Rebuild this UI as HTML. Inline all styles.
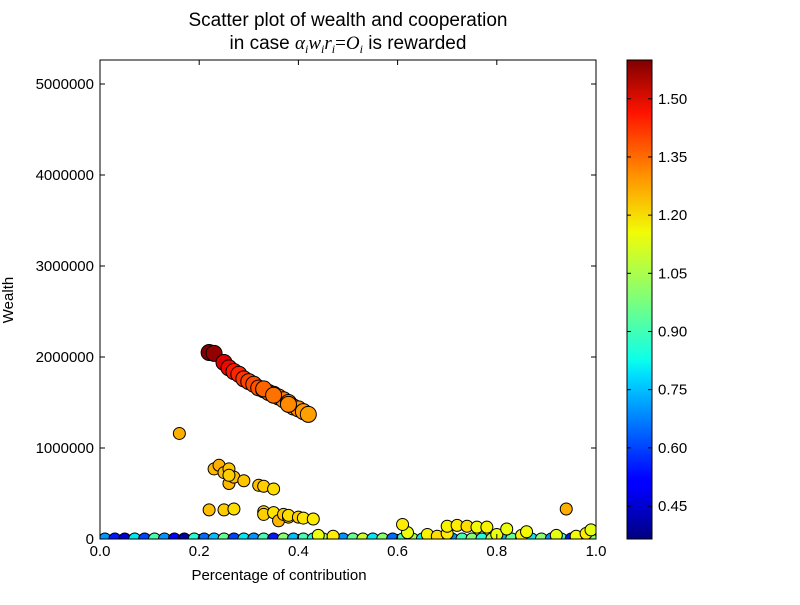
<!DOCTYPE html>
<html><head><meta charset="utf-8"><style>
body{margin:0;background:#fff;width:800px;height:600px;overflow:hidden;font-family:"Liberation Sans","DejaVu Sans",sans-serif}
</style></head><body>
<svg id="chart" width="800" height="600" xmlns="http://www.w3.org/2000/svg">
<rect width="800" height="600" fill="#fff"/>
<defs>
<clipPath id="clip"><rect x="100" y="60" width="496" height="479"/></clipPath>
<linearGradient id="jet" x1="0" y1="1" x2="0" y2="0">
<stop offset="0" stop-color="#00007f"/><stop offset="0.11" stop-color="#0000ff"/><stop offset="0.125" stop-color="#0000ff"/><stop offset="0.34" stop-color="#00dcff"/><stop offset="0.375" stop-color="#0dffea"/><stop offset="0.5" stop-color="#7dff7a"/><stop offset="0.64" stop-color="#f1fc06"/><stop offset="0.75" stop-color="#ff9a00"/><stop offset="0.89" stop-color="#ff1300"/><stop offset="1" stop-color="#7f0000"/></linearGradient></defs>
<text x="348" y="26" text-anchor="middle" font-size="19">Scatter plot of wealth and cooperation</text>
<text x="348" y="49" text-anchor="middle" font-size="19">in case <tspan font-family="Liberation Serif" font-style="italic">α<tspan font-size="12" dy="4">i</tspan><tspan dy="-4">w</tspan><tspan font-size="12" dy="4">i</tspan><tspan dy="-4">r</tspan><tspan font-size="12" dy="4">i</tspan><tspan dy="-4" font-style="normal">=</tspan>O<tspan font-size="12" dy="4">i</tspan></tspan><tspan dy="-4"> is rewarded</tspan></text>
<g id="points" clip-path="url(#clip)"></g>
<rect x="100" y="60" width="496" height="479" fill="none" stroke="#000"/>
<g id="axes"></g>
<text x="279" y="580" text-anchor="middle" font-size="15">Percentage of contribution</text>
<text transform="translate(13,300) rotate(-90)" text-anchor="middle" font-size="15">Wealth</text>
<rect x="627" y="60" width="25" height="479" fill="url(#jet)" stroke="#000"/>
<g id="cbar"></g>
</svg>
<script>
const xTicks=[0,0.2,0.4,0.6,0.8,1.0];
const xTickLabels=["0.0","0.2","0.4","0.6","0.8","1.0"];
const yTicks=[0,1000000,2000000,3000000,4000000,5000000];
const cTicks=[0.45,0.60,0.75,0.90,1.05,1.20,1.35,1.50];
const bandX=[0.22,0.23,0.25,0.26,0.27,0.28,0.29,0.30,0.31,0.32,0.33,0.34,0.35,0.36,0.37,0.38,0.39,0.40,0.41,0.42,0.33,0.35,0.38];
const bandW=[2050000,2040000,1940000,1880000,1840000,1810000,1760000,1730000,1700000,1660000,1640000,1610000,1590000,1560000,1530000,1500000,1450000,1430000,1400000,1370000,1650000,1580000,1480000];
const bandC=[1.60,1.58,1.50,1.48,1.46,1.44,1.42,1.40,1.39,1.38,1.37,1.36,1.35,1.34,1.33,1.32,1.31,1.30,1.29,1.28,1.36,1.34,1.31];
const midX=[0.16,0.23,0.24,0.25,0.26,0.26,0.27,0.26,0.29,0.32,0.33,0.35,0.22,0.25,0.27,0.33,0.33,0.35,0.36,0.37,0.38,0.38,0.40,0.41,0.43,0.94,0.61,0.70,0.72,0.74,0.76,0.78,0.82,0.86,0.99];
const midW=[1160000,770000,810000,730000,770000,610000,680000,700000,640000,590000,580000,550000,320000,320000,330000,300000,270000,290000,200000,270000,240000,260000,240000,230000,220000,330000,160000,140000,150000,140000,130000,130000,110000,80000,100000];
const midC=[1.26,1.25,1.26,1.24,1.23,1.25,1.24,1.22,1.23,1.24,1.22,1.20,1.24,1.22,1.20,1.21,1.22,1.19,1.25,1.23,1.24,1.20,1.22,1.19,1.18,1.26,1.18,1.17,1.18,1.20,1.16,1.17,1.15,1.16,1.14];
const lowX=[0.01,0.03,0.05,0.07,0.09,0.11,0.13,0.15,0.17,0.19,0.21,0.23,0.25,0.27,0.29,0.31,0.33,0.35,0.37,0.39,0.41,0.43,0.45,0.47,0.49,0.51,0.53,0.55,0.57,0.59,0.61,0.63,0.65,0.67,0.69,0.71,0.73,0.75,0.77,0.79,0.81,0.83,0.85,0.87,0.89,0.91,0.93,0.95,0.97,0.99,0.44,0.47,0.62,0.66,0.68,0.70,0.80,0.85,0.92,0.96,0.98];
const lowW=[0,0,0,0,0,0,0,0,0,0,0,0,0,0,0,0,0,0,0,0,0,0,0,0,0,0,0,0,0,0,0,0,0,0,0,0,0,0,0,0,0,0,0,0,0,0,0,0,0,0,40000,30000,70000,50000,30000,60000,50000,40000,40000,30000,60000];
const lowC=[0.70,0.55,0.45,0.80,0.60,0.90,0.70,0.50,0.40,0.85,0.65,0.75,0.95,0.60,0.80,0.70,0.90,0.55,1.00,0.75,0.90,0.85,1.05,0.55,0.70,0.95,1.10,0.80,1.00,0.65,0.90,1.05,0.80,0.95,1.10,0.70,0.90,1.00,0.85,1.05,0.75,0.95,0.60,0.80,1.00,0.70,0.90,0.55,0.85,1.00,1.15,1.18,1.15,1.17,1.20,1.18,1.15,1.17,1.14,1.16,1.18];
const cMin=0.365,cMax=1.60;
const px=v=>100+v*496, py=w=>539-w*0.000091, cy=c=>539-(c-cMin)/(cMax-cMin)*479;
const segR=[[0,0],[0.35,0],[0.66,1],[0.89,1],[1,0.5]];
const segG=[[0,0],[0.125,0],[0.375,1],[0.64,1],[0.91,0],[1,0]];
const segB=[[0,0.5],[0.11,1],[0.34,1],[0.65,0],[1,0]];
function seg(s,t){for(let i=1;i<s.length;i++){if(t<=s[i][0]){const a=s[i-1],b=s[i];return a[1]+(b[1]-a[1])*(t-a[0])/(b[0]-a[0]);}}return s[s.length-1][1];}
function jet(c){let t=(c-cMin)/(cMax-cMin);t=Math.max(0,Math.min(1,t));
 return `rgb(${Math.round(seg(segR,t)*255)},${Math.round(seg(segG,t)*255)},${Math.round(seg(segB,t)*255)})`;}
const NS="http://www.w3.org/2000/svg";
const P=document.getElementById('points');
function draw(xs,ws,cs,r,name){for(let i=0;i<xs.length;i++){const e=document.createElementNS(NS,'circle');
e.setAttribute('cx',px(xs[i]));e.setAttribute('cy',py(ws[i]));e.setAttribute('r',r);
e.setAttribute('fill',jet(cs[i]));e.setAttribute('stroke','#000');e.setAttribute('stroke-width','1');


P.appendChild(e);}}
draw(lowX,lowW,lowC,6,'point-low');
draw(midX,midW,midC,6,'point-mid');
draw(bandX,bandW,bandC,8,'point-band');
const A=document.getElementById('axes');
function line(x1,y1,x2,y2,g){const l=document.createElementNS(NS,'line');l.setAttribute('x1',x1);l.setAttribute('y1',y1);l.setAttribute('x2',x2);l.setAttribute('y2',y2);l.setAttribute('stroke','#000');


g.appendChild(l);}
function text(x,y,s,anchor,g,name){const t=document.createElementNS(NS,'text');t.setAttribute('x',x);t.setAttribute('y',y);t.setAttribute('text-anchor',anchor);t.setAttribute('font-size','15');t.textContent=s;


g.appendChild(t);}
xTicks.forEach((v,i)=>{const x=px(v);line(x,539,x,534,A);line(x,60,x,65,A);text(x,556,xTickLabels[i],'middle',A,'x-tick-label');});
yTicks.forEach(v=>{const y=py(v);line(100,y,105,y,A);line(596,y,591,y,A);text(94,y+5,String(v),'end',A,'y-tick-label');});
const C=document.getElementById('cbar');
cTicks.forEach(v=>{const y=cy(v);line(627,y,631,y,C);line(652,y,648,y,C);text(658,y+5,v.toFixed(2),'start',C,'colorbar-tick-label');});
</script>
</body></html>
